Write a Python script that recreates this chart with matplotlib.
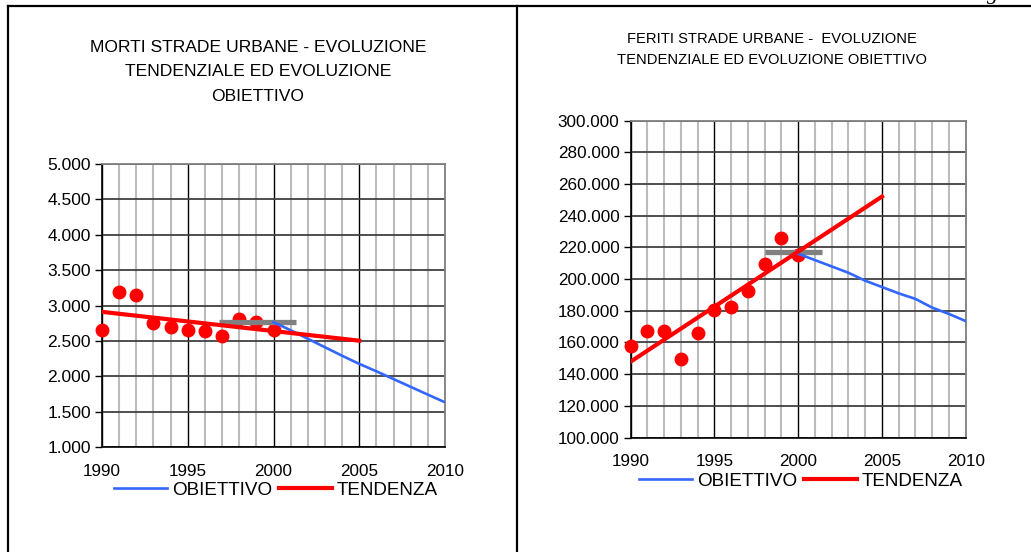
import matplotlib
matplotlib.use("Agg")
import matplotlib.pyplot as plt
from matplotlib.lines import Line2D
from matplotlib.ticker import FuncFormatter, MultipleLocator

plt.rcParams['font.family'] = ['Liberation Sans', 'DejaVu Sans']

# --- data ---
years_obs = [1990, 1991, 1992, 1993, 1994, 1995, 1996, 1997, 1998, 1999, 2000]
years_obj = [2000, 2001, 2002, 2003, 2004, 2005, 2006, 2007, 2008, 2009, 2010]
years_trend = [1990, 2005]

# morti (deaths)
morti_obs = [2660, 3189, 3146, 2755, 2703, 2660, 2642, 2575, 2811, 2769, 2660]
morti_trend = [2910, 2503]
morti_obj = [2764, 2650, 2530, 2410, 2290, 2175, 2070, 1960, 1850, 1740, 1632]
morti_base_years = [1996.8, 2001.3]
morti_base = [2764, 2764]

# feriti (injured)
feriti_obs = [157700, 167000, 167000, 149600, 165800, 180200, 182300, 192500, 209800, 226200, 215500]
feriti_trend = [147900, 252100]
feriti_obj = [216000, 212000, 208000, 204000, 199000, 195000, 191000, 187500, 182000, 178000, 173500]
feriti_base_years = [1998.0, 2001.45]
feriti_base = [216800, 216800]

title_morti = "MORTI STRADE URBANE - EVOLUZIONE\nTENDENZIALE ED EVOLUZIONE\nOBIETTIVO"
title_feriti = "FERITI STRADE URBANE -  EVOLUZIONE\nTENDENZIALE ED EVOLUZIONE OBIETTIVO"

W, H = 1031, 552
fig = plt.figure(figsize=(W / 100, H / 100), dpi=100)


def fig_rect(x0, x1, ytop, ybot):
    return [x0 / W, 1 - ybot / H, (x1 - x0) / W, (ybot - ytop) / H]


def thousands(v, pos):
    return f"{int(round(v)):,}".replace(",", ".")


def draw(ax, obs, trend, obj, base_years, base, ymin, ymax, ystep, ysize):
    ax.set_xlim(1990, 2010)
    ax.set_ylim(ymin, ymax)
    ax.xaxis.set_major_locator(MultipleLocator(5))
    ax.xaxis.set_minor_locator(MultipleLocator(1))
    ax.yaxis.set_major_locator(MultipleLocator(ystep))
    ax.yaxis.set_major_formatter(FuncFormatter(thousands))
    ax.grid(which='minor', axis='x', color='#bcbcbc', lw=1.5, zorder=0)
    ax.grid(which='major', axis='x', color='black', lw=1.0, zorder=0)
    ax.grid(which='major', axis='y', color='#404040', lw=1.3, zorder=0)
    ax.set_axisbelow(True)
    for s in ['top', 'right']:
        ax.spines[s].set_color('#808080')
        ax.spines[s].set_linewidth(1.3)
    for s in ['left', 'bottom']:
        ax.spines[s].set_color('black')
        ax.spines[s].set_linewidth(1.2)
    ax.tick_params(axis='y', which='major', direction='out', length=5, width=1,
                   labelsize=ysize, pad=3)
    ax.tick_params(axis='x', which='both', length=0, labelsize=12.3, pad=12)

    ax.plot(years_obs, obs, 'o', color='#ff0000', ms=9, zorder=3, clip_on=False)
    ax.plot(base_years, base, color='#808080', lw=3.8, solid_capstyle='butt', zorder=4)
    ax.plot(years_obj, obj, color='#3366ff', lw=1.9, zorder=5)
    ax.plot(years_trend, trend, color='#ff0000', lw=3.0, zorder=6)


ax1 = fig.add_axes(fig_rect(102, 445, 164, 447))
draw(ax1, morti_obs, morti_trend, morti_obj, morti_base_years, morti_base,
     1000, 5000, 500, 12.5)

ax2 = fig.add_axes(fig_rect(630.7, 965.7, 120.7, 437.5))
draw(ax2, feriti_obs, feriti_trend, feriti_obj, feriti_base_years, feriti_base,
     100000, 300000, 20000, 12.3)

fig.text(258 / W, 1 - 72 / H, title_morti, ha='center', va='center',
         fontsize=12.6, linespacing=1.78)
fig.text(772 / W, 1 - 49.5 / H, title_feriti, ha='center', va='center',
         fontsize=10.6, linespacing=1.6)

handles = [Line2D([], [], color='#3366ff', lw=1.9),
           Line2D([], [], color='#ff0000', lw=3.0)]
labels = ['OBIETTIVO', 'TENDENZA']
for cx, cy in [(276, 490), (801, 481)]:
    fig.legend(handles, labels, loc='center', bbox_to_anchor=(cx / W, 1 - cy / H),
               ncol=2, frameon=False, fontsize=13.6, handlelength=2.8,
               handletextpad=0.27, columnspacing=0.37, borderpad=0)

# page borders around the two panels
border = dict(color='black', lw=1.6, transform=fig.transFigure)
fig.add_artist(Line2D([7.5 / W, 1], [1 - 6 / H, 1 - 6 / H], **border))
fig.add_artist(Line2D([7.5 / W, 7.5 / W], [0, 1 - 6 / H], **border))
fig.add_artist(Line2D([517 / W, 517 / W], [0, 1 - 6 / H], **border))
# cut-off glyph from the page header
fig.text(993 / W, 1 + 1 / H, "g", ha='center', va='baseline', fontsize=16,
         family='Liberation Serif', style='italic')

fig.savefig("out.png", dpi=100)
